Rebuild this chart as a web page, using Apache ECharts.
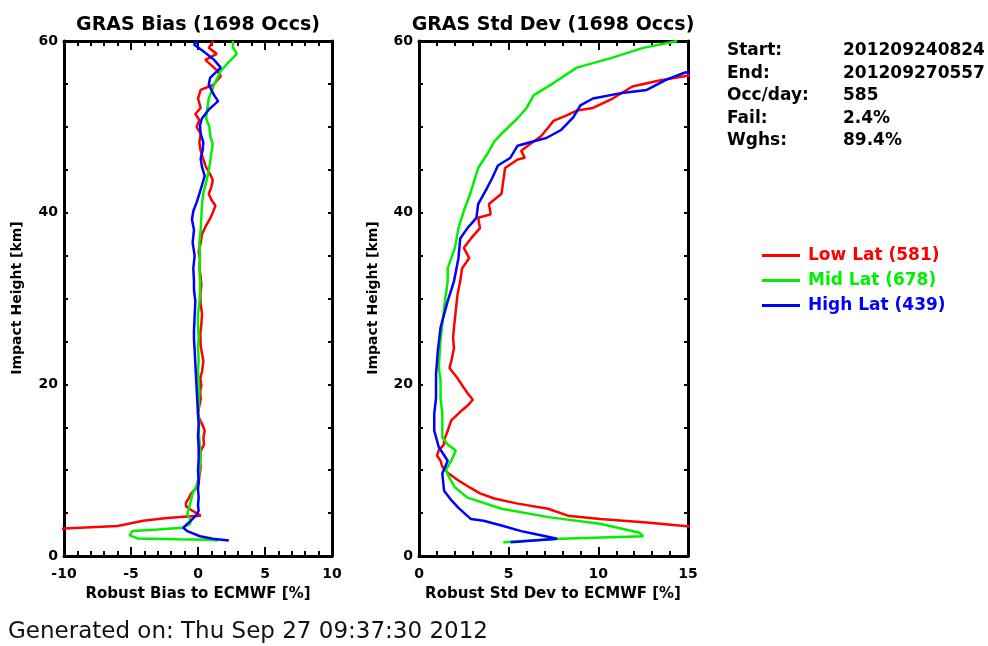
<!DOCTYPE html>
<html>
<head>
<meta charset="utf-8">
<script src="https://cdn.jsdelivr.net/npm/echarts@6/dist/echarts.min.js"></script>
<style>
html,body{margin:0;padding:0;background:#fff;}
#chart{width:988px;height:646px;}
</style>
</head>
<body>
<div id="chart"></div>
<script>
// ---- DATA ----
const seriesNames = ['Low Lat (581)', 'Mid Lat (678)', 'High Lat (439)'];
const seriesColors = ['#ff0000', '#00f000', '#0000ff'];
const biasTicks = [-10, -5, 0, 5, 10];
const stdTicks = [0, 5, 10, 15];
const heightTicks = [0, 20, 40, 60];
const infoLabels = ['Start:', 'End:', 'Occ/day:', 'Fail:', 'Wghs:'];
const infoValues = ['201209240824', '201209270557', '585', '2.4%', '89.4%'];

// [value (%), impact height (km)]
const biasLow = [[-12,3.0],[-10,3.2],[-8,3.35],[-6,3.5],[-4.1,4.1],[-2.5,4.4],[-0.8,4.6],[0.2,4.7],[0.15,4.9],[-0.45,5.3],[-0.9,5.8],[-0.9,6.2],[-0.7,6.7],[-0.55,7.2],[-0.2,7.8],[0.05,8.4],[0.1,9.3],[0.2,10.3],[0.15,11.2],[0.2,12.2],[0.45,13.0],[0.4,13.8],[0.5,14.6],[0.3,15.4],[0.1,16.0],[0.0,16.6],[0.1,17.5],[0.2,18.3],[0.17,19.2],[0.25,19.9],[0.17,20.7],[0.3,21.5],[0.4,22.7],[0.3,23.6],[0.2,24.5],[0.17,25.9],[0.25,27],[0.3,28.2],[0.2,29.4],[0.17,30.5],[0.25,31.5],[0.2,32.5],[0.1,33.5],[0.15,34.5],[0.05,35.5],[0.2,36.5],[0.3,37.5],[0.6,38.5],[0.9,39.3],[1.1,40.0],[1.3,40.8],[1.0,41.5],[0.8,42.2],[1.0,43.0],[1.1,43.8],[0.9,44.5],[0.6,45.3],[0.4,46.2],[0.2,47.2],[0.1,48.2],[0.2,49.2],[-0.1,50.0],[0.1,50.8],[-0.2,51.5],[0.2,52.2],[0,53.3],[0.2,54.3],[1.15,54.9],[1.7,55.9],[1.4,56.6],[0.55,57.8],[1.4,58.5],[0.8,59.2],[1.15,60]];
const biasMid = [[1.5,1.8],[0.9,1.9],[-1.5,1.95],[-4.5,2.05],[-5.1,2.4],[-4.9,2.9],[-3.0,3.1],[-1.15,3.3],[-0.6,3.7],[-0.55,4.1],[-0.8,4.9],[-0.7,5.5],[-0.55,6.3],[-0.4,7.3],[-0.15,8.0],[0,8.8],[0.1,9.8],[0.15,10.7],[0.2,11.6],[0.15,12.6],[0.1,13.6],[0.05,14.6],[0.1,15.6],[0.0,16.6],[0.05,17.8],[0.1,19.0],[0.05,20.4],[0.0,21.5],[0.05,22.8],[0.0,24.2],[0.05,25.5],[0.0,26.8],[0.0,28.2],[0.1,29.5],[0.15,30.8],[0.15,32],[0.1,33.5],[0.15,35],[0.1,36.5],[0.2,38],[0.25,39.5],[0.3,41],[0.4,42.3],[0.6,43.5],[0.75,44.5],[0.9,45.8],[1.0,47],[1.1,48],[0.9,49],[0.85,50],[0.6,51],[0.7,52.2],[0.8,53.3],[1.2,54.9],[1.7,56.5],[2.2,57.4],[2.9,58.5],[2.6,59.3],[2.6,60]];
const biasHigh = [[2.3,1.8],[1.1,2.0],[0.15,2.3],[-0.8,2.9],[-1.1,3.3],[-0.55,4.1],[-0.1,4.8],[0.05,5.3],[0,5.9],[0.05,6.8],[0,7.8],[0.05,8.8],[0.0,10],[0.05,11.3],[0.05,12.6],[0.0,14],[0.05,15.3],[0.0,16.6],[-0.05,18],[-0.1,19.5],[-0.15,21],[-0.2,22.4],[-0.25,24],[-0.3,25.2],[-0.3,26.2],[-0.25,28],[-0.2,29.7],[-0.3,31],[-0.3,32],[-0.35,33.5],[-0.25,35],[-0.4,36.5],[-0.3,38],[-0.45,39.2],[-0.35,40.2],[-0.1,41.2],[0.1,42.2],[0.3,43.2],[0.5,44.3],[0.3,45.3],[0.2,46.3],[0.35,47.3],[0.4,48.2],[0.2,49.2],[0.15,50.2],[0.3,51],[0.8,52],[1.5,53],[1.2,53.7],[0.8,54.9],[0.9,55.7],[1.7,56.9],[1.2,57.8],[0.4,58.8],[-0.3,59.6],[0,60]];

const stdLow = [[16,3.3],[14.8,3.5],[12.7,3.9],[10.1,4.3],[8.3,4.7],[7.2,5.5],[5.5,6.1],[4.2,6.7],[3.4,7.3],[2.9,7.9],[2.2,8.8],[1.6,9.7],[1.3,10.4],[1.2,11.1],[1.0,11.7],[1.1,12.3],[1.4,13.0],[1.4,13.5],[1.6,14.6],[1.8,15.8],[2.3,16.8],[2.7,17.5],[3.0,18.2],[2.7,19.0],[2.5,19.6],[2.15,20.7],[1.7,21.9],[1.8,22.7],[1.95,24.2],[1.9,25.4],[1.95,26.6],[2.05,28.6],[2.15,30.5],[2.3,32.0],[2.4,33.5],[2.8,34.7],[2.5,35.9],[2.9,37.0],[3.4,38.2],[3.3,39.4],[4.0,39.8],[3.9,41.0],[4.6,42.2],[4.7,43.7],[4.8,45.2],[5.5,46.2],[5.9,46.4],[5.7,47.2],[6.2,48.0],[6.8,48.9],[7.2,49.9],[7.5,50.7],[8.2,51.3],[8.8,51.9],[9.7,52.2],[10.8,53.3],[11.9,54.7],[13.4,55.4],[14.8,55.9],[16,56.3]];
const stdMid = [[4.7,1.6],[7.9,2.0],[12.5,2.3],[12.3,2.7],[10.1,3.75],[7.3,4.5],[4.6,5.5],[2.7,6.8],[2.0,8.0],[1.7,9.1],[1.5,10.0],[1.8,11.1],[2.05,12.3],[1.6,13.0],[1.3,13.8],[1.3,15.2],[1.3,16.6],[1.2,18.4],[1.2,20.5],[1.1,21.9],[1.15,23.5],[1.2,25.1],[1.3,27],[1.4,28.9],[1.5,30.5],[1.6,32],[1.6,33.5],[2.0,35.9],[2.2,38.2],[2.5,40.2],[2.9,42.5],[3.3,45.2],[3.8,46.8],[4.2,48.3],[4.7,49.4],[5.5,51.0],[6.0,52.2],[6.4,53.7],[7.5,55.1],[8.8,56.9],[10.7,58.0],[12.5,59.2],[14.4,60]];
const stdHigh = [[5.1,1.6],[7.7,2.0],[6.4,2.6],[5.7,2.9],[4.7,3.5],[3.6,4.1],[2.9,4.3],[2.2,5.6],[1.8,6.5],[1.4,7.6],[1.3,9.6],[1.6,11.1],[1.1,12.7],[0.85,14.6],[0.85,16.6],[0.95,18.4],[0.95,21.2],[1.05,23.9],[1.2,26.6],[1.6,29.7],[1.95,32],[2.2,34.7],[2.3,37.0],[2.7,38.2],[3.2,39.4],[3.3,41.0],[3.8,42.9],[4.1,44.1],[4.4,45.5],[5.1,46.4],[5.5,47.8],[6.2,48.2],[7.1,48.7],[7.9,49.6],[8.6,51.1],[9.0,52.5],[9.7,53.3],[11.2,53.9],[12.7,54.3],[13.8,55.5],[14.8,56.3],[16,56.8]];

// ---- CHART ----
const FONT = 'DejaVu Sans';
const chart = echarts.init(document.getElementById('chart'), null, {renderer: 'canvas'});

function xAx(grid, ticks, pos, labels) {
  return {
    type: 'value', gridIndex: grid, position: pos,
    min: ticks[0], max: ticks[ticks.length - 1], interval: 5,
    axisLine: {show: true, onZero: false, lineStyle: {color: '#000', width: 3}},
    axisTick: {show: true, inside: true, length: 9, lineStyle: {color: '#000', width: 2}},
    minorTick: {show: true, splitNumber: 5, length: 5, lineStyle: {color: '#000', width: 2}},
    axisLabel: {show: labels, margin: 11, color: '#000', fontFamily: FONT, fontWeight: 'bold', fontSize: 14},
    splitLine: {show: false}
  };
}
function yAx(grid, pos, labels) {
  return {
    type: 'value', gridIndex: grid, position: pos,
    min: heightTicks[0], max: heightTicks[heightTicks.length - 1], interval: 20,
    axisLine: {show: true, onZero: false, lineStyle: {color: '#000', width: 3}},
    axisTick: {show: true, inside: true, length: 4, lineStyle: {color: '#000', width: 2}},
    minorTick: {show: true, splitNumber: 4, length: 4, lineStyle: {color: '#000', width: 2}},
    axisLabel: {show: labels, margin: 6, color: '#000', fontFamily: FONT, fontWeight: 'bold', fontSize: 14},
    splitLine: {show: false}
  };
}
function ser(name, idx, data, ax) {
  return {
    name: name, type: 'line', data: data, xAxisIndex: ax, yAxisIndex: ax,
    showSymbol: false, symbol: 'none', clip: true,
    lineStyle: {color: seriesColors[idx], width: 2.5},
    itemStyle: {color: seriesColors[idx]}
  };
}

const graphics = [];
function txt(x, y, text, size, weight, align, color, rot) {
  graphics.push({
    type: 'text', x: x, y: y, rotation: rot || 0,
    style: {text: text, fill: color || '#000', font: (weight || 'normal') + ' ' + size + 'px "' + FONT + '"',
            textAlign: align || 'left', textVerticalAlign: 'middle'}
  });
}
txt(198, 25, 'GRAS Bias (1698 Occs)', 19, 'bold', 'center');
txt(553, 25, 'GRAS Std Dev (1698 Occs)', 19, 'bold', 'center');
txt(198, 594, 'Robust Bias to ECMWF [%]', 15, 'bold', 'center');
txt(553, 594, 'Robust Std Dev to ECMWF [%]', 15, 'bold', 'center');
txt(17, 298, 'Impact Height [km]', 14, 'bold', 'center', '#000', Math.PI / 2);
txt(373, 298, 'Impact Height [km]', 14, 'bold', 'center', '#000', Math.PI / 2);
infoLabels.forEach((l, i) => {
  txt(727, 51 + i * 22.5, l, 17, 'bold', 'left');
  txt(843, 51 + i * 22.5, infoValues[i], 17, 'bold', 'left');
});
txt(8, 632, 'Generated on: Thu Sep 27 09:37:30 2012', 23, 'normal', 'left', '#111');

const option = {
  animation: false,
  backgroundColor: '#fff',
  grid: [
    {left: 64, top: 41, width: 268, height: 515, containLabel: false},
    {left: 419, top: 41, width: 269, height: 515, containLabel: false}
  ],
  xAxis: [
    xAx(0, biasTicks, 'bottom', true),
    xAx(0, biasTicks, 'top', false),
    xAx(1, stdTicks, 'bottom', true),
    xAx(1, stdTicks, 'top', false)
  ],
  yAxis: [
    yAx(0, 'left', true),
    yAx(0, 'right', false),
    yAx(1, 'left', true),
    yAx(1, 'right', false)
  ],
  legend: {
    orient: 'vertical', left: 757, top: 242, itemGap: 8,
    itemWidth: 38, itemHeight: 3, icon: 'rect',
    data: seriesNames.map((n, i) => ({name: n, textStyle: {color: seriesColors[i]}})),
    textStyle: {fontFamily: FONT, fontWeight: 'bold', fontSize: 17, padding: [0, 0, 0, 3]}
  },
  series: [
    ser(seriesNames[0], 0, biasLow, 0),
    ser(seriesNames[1], 1, biasMid, 0),
    ser(seriesNames[2], 2, biasHigh, 0),
    ser(seriesNames[0], 0, stdLow, 2),
    ser(seriesNames[1], 1, stdMid, 2),
    ser(seriesNames[2], 2, stdHigh, 2)
  ],
  graphic: graphics
};
chart.setOption(option);
</script>
</body>
</html>
